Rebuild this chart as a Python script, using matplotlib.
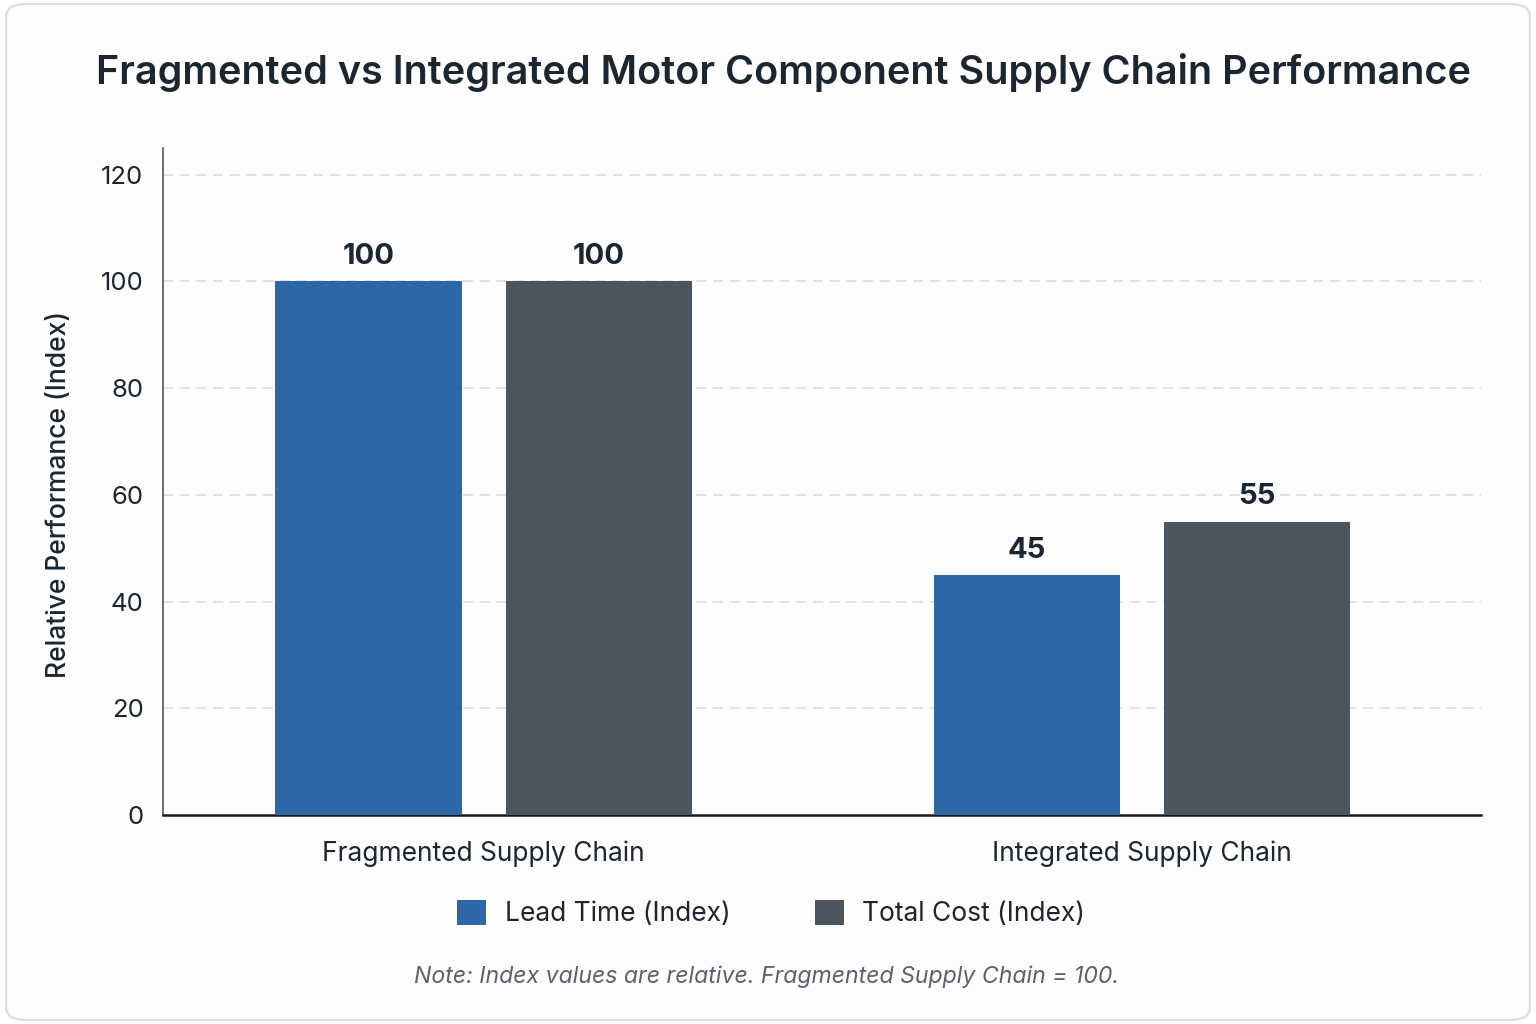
import matplotlib.pyplot as plt
from matplotlib.patches import FancyBboxPatch
import numpy as np

categories = ["Fragmented Supply Chain", "Integrated Supply Chain"]
lead_time = [100, 45]
total_cost = [100, 55]
series_names = ["Lead Time (Index)", "Total Cost (Index)"]
yticks = [0, 20, 40, 60, 80, 100, 120]

plt.rcParams['font.family'] = ['Inter', 'DejaVu Sans']

blue = "#2e67a7"
gray = "#4a5560"
dark = "#1c2633"

fig = plt.figure(figsize=(15.36, 10.24), dpi=100)
fig.patch.set_facecolor("white")

# card border with rounded corners
card = FancyBboxPatch((0.004, 0.004), 0.992, 0.992,
                      boxstyle="round,pad=0,rounding_size=0.012",
                      transform=fig.transFigure, facecolor="#fdfdfd",
                      edgecolor="#dcdcdc", linewidth=1.5, zorder=-10)
fig.patches.append(card)

ax = fig.add_axes([0.1061, 0.2041, 0.8581, 0.6514])
ax.set_facecolor("none")

x = np.arange(len(categories))
w = 0.283
off = 0.175
b1 = ax.bar(x - off, lead_time, w, color=blue, label=series_names[0], zorder=3)
b2 = ax.bar(x + off, total_cost, w, color=gray, label=series_names[1], zorder=3)

for bars, vals in [(b1, lead_time), (b2, total_cost)]:
    for r, v in zip(bars, vals):
        ax.annotate(str(v), (r.get_x() + r.get_width() / 2, v),
                    xytext=(0, 8), textcoords="offset points",
                    ha="center", va="bottom", fontsize=21,
                    fontweight="bold", color=dark)

ax.set_xlim(-0.487, 1.515)
ax.set_ylim(0, 125)
ax.set_yticks(yticks)
ax.set_xticks(x)
ax.set_xticklabels(categories, fontsize=19, color=dark)
ax.tick_params(axis="y", labelsize=18.5, colors=dark, length=0, pad=14)
ax.tick_params(axis="x", length=0, pad=18)
ax.set_ylabel("Relative Performance (Index)", fontsize=19, fontweight="medium",
              color=dark)
ax.yaxis.set_label_coords(-0.069, 0.48)

for t in yticks[1:]:
    ax.axhline(t, color="#dddddd", linestyle=(0, (6, 4)), linewidth=1.2, zorder=1)

for s in ["top", "right"]:
    ax.spines[s].set_visible(False)
ax.spines["left"].set_color("#555555")
ax.spines["left"].set_linewidth(1.2)
ax.spines["bottom"].set_color("#1a1a1a")
ax.spines["bottom"].set_linewidth(1.8)

fig.text(0.510, 0.929, "Fragmented vs Integrated Motor Component Supply Chain Performance",
         ha="center", va="center", fontsize=28.5, fontweight="semibold", color=dark)

fig.legend(handles=[b1, b2], labels=series_names, loc="center",
           bbox_to_anchor=(0.502, 0.108), ncol=2, frameon=False,
           fontsize=19, handlelength=1.1, handleheight=1.1,
           columnspacing=3.2, handletextpad=0.7, labelcolor=dark)

fig.text(0.499, 0.046, "Note: Index values are relative. Fragmented Supply Chain = 100.",
         ha="center", va="center", fontsize=16.6, style="italic", color="#5a6270")

fig.savefig("out.png", dpi=100, facecolor=fig.get_facecolor())
